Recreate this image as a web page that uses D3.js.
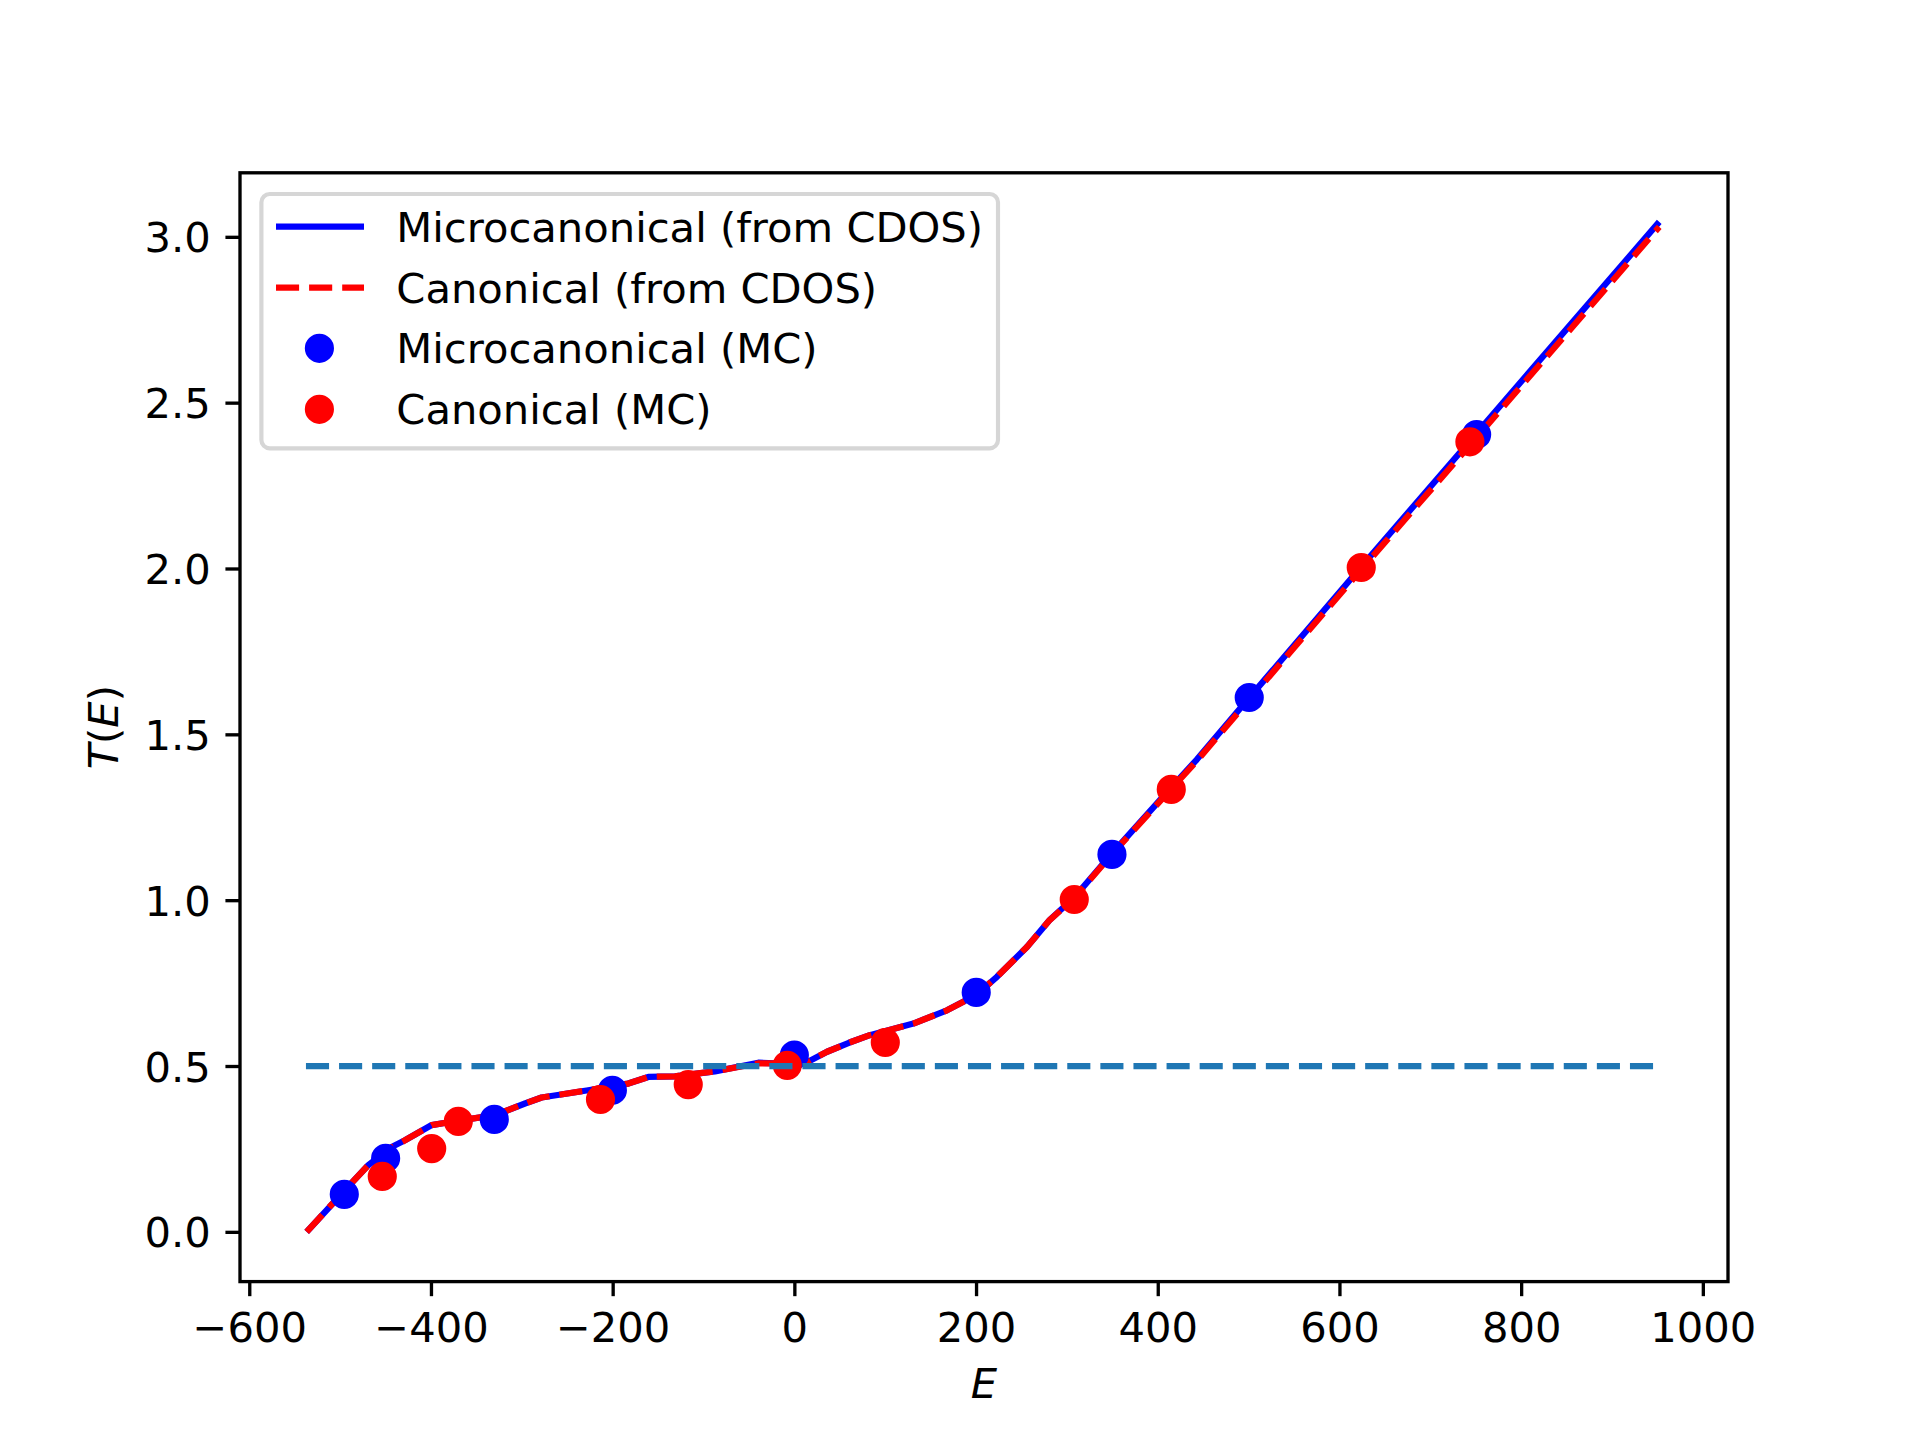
<!DOCTYPE html>
<html>
<head>
<meta charset="utf-8">
<script src="https://cdn.jsdelivr.net/npm/d3@7"></script>
<style>
  body { margin: 0; background: #fff; }
  svg { display: block; }
  text { font-family: "DejaVu Sans", sans-serif; }
</style>
</head>
<body>
<svg id="chart" width="1920" height="1440"></svg>
<script>
// ---- data ----
const microE = [-536.8, -513, -494.7, -469, -443.3, -428.6, -399.2, -377.2, -329.5, -296.5, -278.2, -226.9, -182.8, -160.8, -131.4, -87.4, -39.7, -21.4, 5, 13, 36, 60, 83, 131, 168, 200, 223, 256, 281, 308, 350, 415, 443, 500, 624, 751, 952];
const microT = [0.0, 0.071, 0.126, 0.201, 0.256, 0.276, 0.322, 0.332, 0.352, 0.387, 0.405, 0.427, 0.447, 0.467, 0.469, 0.484, 0.510, 0.508, 0.505, 0.51, 0.543, 0.57, 0.593, 0.628, 0.668, 0.714, 0.769, 0.859, 0.94, 1.008, 1.142, 1.34, 1.424, 1.608, 2.005, 2.408, 3.045];

const canonE = [-536.8, -513, -494.7, -469, -443.3, -428.6, -399.2, -377.2, -329.5, -296.5, -278.2, -226.9, -182.8, -160.8, -131.4, -87.4, -39.7, -21.4, 5, 13, 36, 60, 83, 131, 168, 200, 223, 256, 281, 308, 350, 415, 443, 500, 624, 751, 952];
const canonT = [0.0, 0.071, 0.126, 0.201, 0.254, 0.276, 0.322, 0.332, 0.352, 0.387, 0.405, 0.427, 0.447, 0.467, 0.469, 0.484, 0.508, 0.508, 0.505, 0.51, 0.543, 0.57, 0.593, 0.628, 0.668, 0.714, 0.769, 0.859, 0.94, 1.006, 1.14, 1.336, 1.42, 1.602, 1.997, 2.395, 3.03];

const mcMicroE = [-495.4, -449.9, -330.3, -200.3, 0.0, 200.2, 349.6, 500.7, 751.0];
const mcMicroT = [0.113, 0.222, 0.339, 0.427, 0.533, 0.722, 1.138, 1.611, 2.404];

const mcCanonE = [-453.6, -399.2, -369.9, -213.4, -116.8, -7.8, 100.1, 308.1, 414.9, 624.0, 743.6];
const mcCanonT = [0.167, 0.251, 0.333, 0.399, 0.444, 0.502, 0.571, 1.002, 1.334, 2.003, 2.382];

const refLineE = [-537.6, 952];
const refLineT = [0.5, 0.5];

const xTicks = [-600, -400, -200, 0, 200, 400, 600, 800, 1000];
const yTicks = [0.0, 0.5, 1.0, 1.5, 2.0, 2.5, 3.0];

const legendLabels = ["Microcanonical (from CDOS)", "Canonical (from CDOS)", "Microcanonical (MC)", "Canonical (MC)"];

// ---- layout ----
const svg = d3.select("#chart");
const L = 240, R = 1728, T = 172.8, B = 1281.6;
const FS = 41.67;
const x = d3.scaleLinear().domain([-610.2, 1027.7]).range([L, R]);
const y = d3.scaleLinear().domain([-0.150, 3.193]).range([B, T]);

const zip = (a, b) => a.map((v, i) => [v, b[i]]);
const line = d3.line().x(d => x(d[0])).y(d => y(d[1]));

const plot = svg.append("g");

plot.append("path").datum(zip(microE, microT))
  .attr("d", line).attr("fill", "none").attr("stroke", "#0000ff")
  .attr("stroke-width", 6.25).attr("stroke-linejoin", "round");

plot.append("path").datum(zip(canonE, canonT))
  .attr("d", line).attr("fill", "none").attr("stroke", "#ff0000")
  .attr("stroke-width", 6.25).attr("stroke-linejoin", "round").attr("stroke-dasharray", "23.1,10");

plot.selectAll("circle.mcm").data(zip(mcMicroE, mcMicroT)).enter().append("circle")
  .attr("class", "mcm").attr("cx", d => x(d[0])).attr("cy", d => y(d[1]))
  .attr("r", 12.5).attr("fill", "#0000ff").attr("stroke", "#0000ff").attr("stroke-width", 4.17);

plot.selectAll("circle.mcc").data(zip(mcCanonE, mcCanonT)).enter().append("circle")
  .attr("class", "mcc").attr("cx", d => x(d[0])).attr("cy", d => y(d[1]))
  .attr("r", 12.5).attr("fill", "#ff0000").attr("stroke", "#ff0000").attr("stroke-width", 4.17);

plot.append("path").datum(zip(refLineE, refLineT))
  .attr("d", d3.line().x(d => x(d[0])).y(d => y(d[1])))
  .attr("fill", "none").attr("stroke", "#1f77b4")
  .attr("stroke-width", 6.25).attr("stroke-dasharray", "23.1,10");

// ---- axes ----
const xAxis = d3.axisBottom(x).tickValues(xTicks).tickSize(14.58).tickPadding(14.58).tickFormat(d3.format("d"));
const yAxis = d3.axisLeft(y).tickValues(yTicks).tickSize(14.58).tickPadding(14.58).tickFormat(d3.format(".1f"));

const gx = svg.append("g").attr("transform", `translate(0,${B})`).call(xAxis);
const gy = svg.append("g").attr("transform", `translate(${L},0)`).call(yAxis);
[gx, gy].forEach(g => {
  g.select(".domain").remove();
  g.selectAll(".tick line").attr("stroke", "#000").attr("stroke-width", 3.33);
  g.selectAll(".tick text").attr("font-size", FS).attr("font-family", "DejaVu Sans").attr("fill", "#000");
});
gx.selectAll(".tick text").attr("dy", null).attr("y", 60.1);
gy.selectAll(".tick text").attr("dy", "0.36em");

// spines
svg.append("rect").attr("x", L).attr("y", T).attr("width", R - L).attr("height", B - T)
  .attr("fill", "none").attr("stroke", "#000").attr("stroke-width", 3.33).attr("stroke-linejoin", "miter");

// axis labels
svg.append("text").attr("x", (L + R) / 2).attr("y", 1398).attr("text-anchor", "middle")
  .attr("font-size", FS).attr("font-style", "italic").text("E");
const yl = svg.append("text").attr("transform", `translate(118,${(T + B) / 2}) rotate(-90)`)
  .attr("text-anchor", "middle").attr("font-size", FS);
yl.append("tspan").attr("font-style", "italic").text("T");
yl.append("tspan").text("(");
yl.append("tspan").attr("font-style", "italic").text("E");
yl.append("tspan").text(")");

// ---- legend ----
const lg = svg.append("g");
lg.append("rect").attr("x", 261.4).attr("y", 194).attr("width", 736.6).attr("height", 254.3)
  .attr("rx", 8.3).attr("ry", 8.3).attr("fill", "#fff").attr("fill-opacity", 0.8)
  .attr("stroke", "#d6d6d6").attr("stroke-width", 4.17);
const rowY = [226.7, 287.7, 348.3, 409.3];
lg.append("line").attr("x1", 276).attr("x2", 364).attr("y1", rowY[0]).attr("y2", rowY[0])
  .attr("stroke", "#0000ff").attr("stroke-width", 6.25);
lg.append("line").attr("x1", 276).attr("x2", 364).attr("y1", rowY[1]).attr("y2", rowY[1])
  .attr("stroke", "#ff0000").attr("stroke-width", 6.25).attr("stroke-dasharray", "23.1,10");
lg.append("circle").attr("cx", 319.4).attr("cy", rowY[2]).attr("r", 12.5)
  .attr("fill", "#0000ff").attr("stroke", "#0000ff").attr("stroke-width", 4.17);
lg.append("circle").attr("cx", 319.4).attr("cy", rowY[3]).attr("r", 12.5)
  .attr("fill", "#ff0000").attr("stroke", "#ff0000").attr("stroke-width", 4.17);
lg.selectAll("text.lab").data(legendLabels).enter().append("text")
  .attr("class", "lab").attr("x", 396.3).attr("y", (d, i) => rowY[i] + 15)
  .attr("font-size", FS).attr("fill", "#000").text(d => d);
</script>
</body>
</html>
